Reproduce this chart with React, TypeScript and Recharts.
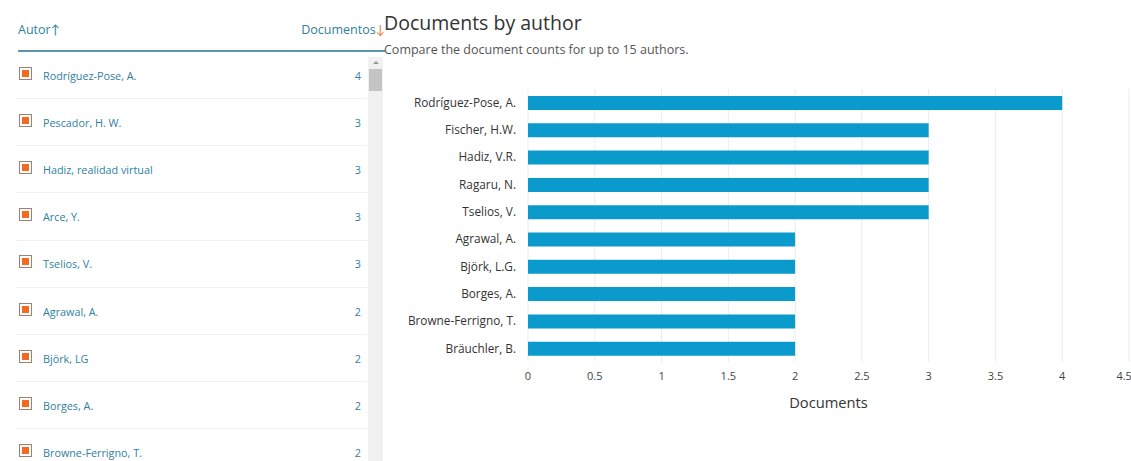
import { BarChart, Bar, XAxis, YAxis, CartesianGrid, Label } from "recharts";

const listAuthors = [
  "Rodríguez-Pose, A.",
  "Pescador, H. W.",
  "Hadiz, realidad virtual",
  "Arce, Y.",
  "Tselios, V.",
  "Agrawal, A.",
  "Björk, LG",
  "Borges, A.",
  "Browne-Ferrigno, T.",
];
const listCounts = [4, 3, 3, 3, 3, 2, 2, 2, 2];

const chartAuthors = [
  "Rodríguez-Pose, A.",
  "Fischer, H.W.",
  "Hadiz, V.R.",
  "Ragaru, N.",
  "Tselios, V.",
  "Agrawal, A.",
  "Björk, L.G.",
  "Borges, A.",
  "Browne-Ferrigno, T.",
  "Bräuchler, B.",
];
const chartCounts = [4, 3, 3, 3, 3, 2, 2, 2, 2, 2];
const xTicks = [0, 0.5, 1, 1.5, 2, 2.5, 3, 3.5, 4, 4.5];

const FONT = "'Open Sans', Lato, sans-serif";
const LINK = "#2f7fa0";

function Checkbox() {
  return (
    <div
      style={{
        width: 11,
        height: 11,
        border: "1px solid #a08070",
        background: "#fff",
        display: "flex",
        alignItems: "center",
        justifyContent: "center",
      }}
    >
      <div style={{ width: 7, height: 7, background: "#f26a21" }} />
    </div>
  );
}

function AuthorList() {
  return (
    <div style={{ position: "absolute", left: 15, top: 0, width: 372, height: 461 }}>
      <div style={{ position: "absolute", left: 3, top: 21, fontSize: 12.5, color: LINK }}>
        Autor↑
      </div>
      <div style={{ position: "absolute", right: 2, top: 21, fontSize: 12.5, color: LINK }}>
        Documentos<span style={{ color: "#f07d2e" }}>↓</span>
      </div>
      <div
        style={{
          position: "absolute",
          left: 3,
          top: 50,
          width: 367,
          height: 2,
          background: "#5b96a8",
        }}
      />
      {/* scrollbar */}
      <div
        style={{
          position: "absolute",
          left: 353,
          top: 57,
          width: 15,
          height: 404,
          background: "#f1f1f1",
        }}
      >
        <div
          style={{
            position: "absolute",
            left: 5,
            top: 4,
            width: 0,
            height: 0,
            borderLeft: "3px solid transparent",
            borderRight: "3px solid transparent",
            borderBottom: "3px solid #999",
          }}
        />
        <div
          style={{
            position: "absolute",
            left: 1,
            top: 12,
            width: 13,
            height: 22,
            background: "#c4c4c4",
          }}
        />
      </div>
      {listAuthors.map((name, i) => (
        <div
          key={name}
          style={{
            position: "absolute",
            left: 0,
            top: 52 + i * 47.2,
            width: 352,
            height: 46,
            borderBottom: i < listAuthors.length - 1 ? "1px solid #f0f0f0" : "none",
            display: "flex",
            alignItems: "center",
            lineHeight: "13px",
          }}
        >
          <div style={{ marginLeft: 4, marginTop: -4 }}>
            <Checkbox />
          </div>
          <div style={{ marginLeft: 11, fontSize: 10.8, color: LINK, flex: 1 }}>{name}</div>
          <div style={{ marginRight: 6, fontSize: 10.8, color: LINK }}>{listCounts[i]}</div>
        </div>
      ))}
    </div>
  );
}

export default function App() {
  const data = chartAuthors.map((author, i) => ({ author, documents: chartCounts[i] }));
  return (
    <div
      style={{
        position: "absolute",
        left: 0,
        top: 0,
        width: 1131,
        height: 461,
        overflow: "hidden",
        background: "#fff",
        fontFamily: FONT,
      }}
    >
      <AuthorList />
      <div style={{ position: "absolute", left: 384, top: 9, fontSize: 19.5, color: "#333" }}>
        Documents by author
      </div>
      <div style={{ position: "absolute", left: 384, top: 41, fontSize: 12.5, color: "#555" }}>
        Compare the document counts for up to 15 authors.
      </div>
      <div style={{ position: "absolute", left: 380, top: 80 }}>
        <BarChart
          width={751}
          height={340}
          data={data}
          layout="vertical"
          margin={{ top: 9, right: 2, bottom: 8, left: 0 }}
          barSize={14}
        >
          <CartesianGrid horizontal={false} stroke="#ececec" />
          <XAxis
            type="number"
            domain={[0, 4.5]}
            ticks={xTicks}
            axisLine={false}
            tickLine={false}
            tickMargin={4}
            height={50}
            tick={{ fontSize: 11, fill: "#444", fontFamily: FONT }}
          >
            <Label
              value="Documents"
              position="insideBottom"
              offset={4}
              style={{ fontSize: 14.7, fill: "#333", fontFamily: FONT }}
            />
          </XAxis>
          <YAxis
            type="category"
            dataKey="author"
            width={148}
            axisLine={false}
            tickLine={false}
            tickMargin={6}
            interval={0}
            tick={{ fontSize: 11.8, fill: "#333", fontFamily: FONT }}
          />
          <Bar dataKey="documents" fill="#0a9acb" isAnimationActive={false} />
        </BarChart>
      </div>
    </div>
  );
}
